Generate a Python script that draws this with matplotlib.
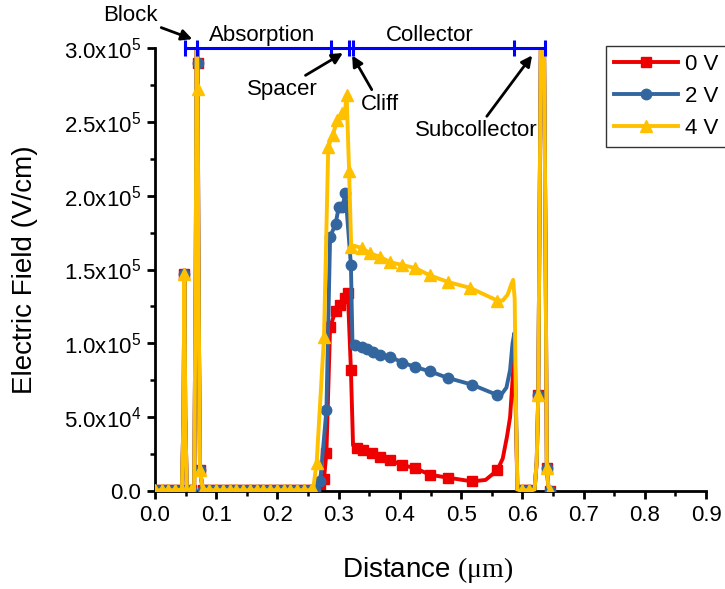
import matplotlib
matplotlib.use('Agg')
import matplotlib.pyplot as plt
from matplotlib.lines import Line2D
from matplotlib.ticker import MultipleLocator, FuncFormatter
import numpy as np

plt.rcParams['font.family'] = 'Liberation Sans'
plt.rcParams['mathtext.fontset'] = 'custom'
plt.rcParams['mathtext.rm'] = 'Liberation Sans'
plt.rcParams['mathtext.sf'] = 'Liberation Serif'

# field values in units of 1e5 V/cm, distance in um
# part shared by all bias points (substrate side, block layer, absorber)
x_left = [0.000, 0.011, 0.022, 0.033, 0.044, 0.0465, 0.048, 0.0495, 0.052, 0.058,
          0.064, 0.0665, 0.0682, 0.0695, 0.0715, 0.0735, 0.078, 0.089, 0.100, 0.111,
          0.122, 0.133, 0.144, 0.155, 0.166, 0.177, 0.188, 0.199, 0.210, 0.221,
          0.232, 0.243, 0.254]
y_left = [0.005, 0.005, 0.005, 0.005, 0.01, 0.5, 1.47, 0.5, 0.01, 0.005,
          0.01, 1.5, 3.4, 2.9, 1.2, 0.14, 0.01, 0.005, 0.005, 0.005,
          0.005, 0.005, 0.005, 0.005, 0.005, 0.005, 0.005, 0.005, 0.005, 0.005,
          0.005, 0.005, 0.005]
m_left = [1, 1, 1, 1, 1, 0, 1, 0, 0, 1,
          0, 0, 0, 1, 0, 1, 1, 1, 1, 1,
          1, 1, 1, 1, 1, 1, 1, 1, 1, 1,
          1, 1, 1]
block_top = [2.9, 2.9, 2.72]   # marker at the block spike for 0, 2, 4 V

# subcollector side, shared
x_right = [0.595, 0.600, 0.611, 0.620, 0.6235, 0.626, 0.6305, 0.6345, 0.638, 0.640, 0.6425, 0.646]
y_right = [0.0, 0.005, 0.005, 0.01, 0.2, 0.65, 3.2, 3.6, 1.6, 0.155, 0.03, 0.0]
m_right = [0, 1, 1, 0, 0, 1, 0, 0, 0, 1, 0, 1]

# spacer / cliff / collector for each bias
x_0v = [0.262, 0.270, 0.276, 0.280, 0.286, 0.295, 0.302, 0.310, 0.315, 0.320,
        0.3235, 0.330, 0.340, 0.355, 0.368, 0.384, 0.404, 0.425, 0.449, 0.479,
        0.518, 0.540, 0.559, 0.568, 0.575, 0.580, 0.584, 0.587, 0.5895, 0.592]
y_0v = [0.005, 0.01, 0.08, 0.26, 1.11, 1.22, 1.26, 1.31, 1.34, 0.82,
        0.31, 0.29, 0.28, 0.26, 0.23, 0.21, 0.175, 0.155, 0.11, 0.09,
        0.065, 0.075, 0.14, 0.22, 0.37, 0.50, 0.75, 0.95, 0.5, 0.0]
m_0v = [1, 1, 1, 1, 1, 1, 1, 1, 1, 1,
        0, 1, 1, 1, 1, 1, 1, 1, 1, 1,
        1, 0, 1, 0, 0, 0, 0, 0, 0, 0]

x_2v = [0.262, 0.270, 0.280, 0.286, 0.295, 0.300, 0.306, 0.311, 0.320, 0.3225,
        0.327, 0.338, 0.346, 0.356, 0.368, 0.384, 0.404, 0.425, 0.449, 0.479,
        0.518, 0.559, 0.566, 0.574, 0.580, 0.584, 0.587, 0.5895, 0.592]
y_2v = [0.005, 0.07, 0.55, 1.72, 1.81, 1.92, 1.92, 2.02, 1.53, 1.01,
        0.99, 0.975, 0.96, 0.94, 0.92, 0.91, 0.87, 0.84, 0.81, 0.765,
        0.72, 0.65, 0.655, 0.70, 0.82, 1.0, 1.07, 0.6, 0.0]
m_2v = [1, 1, 1, 1, 1, 1, 1, 1, 1, 0,
        1, 1, 1, 1, 1, 1, 1, 1, 1, 1,
        1, 1, 0, 0, 0, 0, 0, 0, 0]

x_4v = [0.258, 0.264, 0.276, 0.283, 0.290, 0.298, 0.305, 0.310, 0.313, 0.317,
        0.3205, 0.326, 0.338, 0.351, 0.368, 0.384, 0.404, 0.425, 0.449, 0.479,
        0.515, 0.559, 0.568, 0.576, 0.582, 0.585, 0.5875, 0.5895, 0.592]
y_4v = [0.005, 0.19, 1.04, 2.33, 2.41, 2.51, 2.56, 2.56, 2.68, 2.17,
        1.65, 1.66, 1.645, 1.61, 1.585, 1.55, 1.53, 1.51, 1.46, 1.415,
        1.375, 1.29, 1.29, 1.33, 1.40, 1.43, 1.30, 0.6, 0.0]
m_4v = [1, 1, 1, 1, 1, 1, 1, 0, 1, 1,
        1, 0, 1, 1, 1, 1, 1, 1, 1, 1,
        1, 1, 0, 0, 0, 0, 0, 0, 0]

labels = ['0 V', '2 V', '4 V']
colors = ['#ee0000', '#33669f', '#ffc000']
markers = ['s', 'o', '^']
msizes = [7, 7.5, 8]

# layer boundaries drawn as the blue bar on top
bounds = [0.049, 0.0686, 0.2876, 0.317, 0.3235, 0.5866, 0.637]

fig = plt.figure(figsize=(7.25, 5.89), dpi=100)
ax = fig.add_axes([155 / 725, 98 / 589, 551 / 725, 443 / 589])

mids = [(x_0v, y_0v, m_0v), (x_2v, y_2v, m_2v), (x_4v, y_4v, m_4v)]
for i, (xm, ym, mm) in enumerate(mids):
    yl = list(y_left)
    yl[13] = block_top[i]
    x = np.array(x_left + xm + x_right)
    y = np.array(yl + ym + y_right) * 1e5
    mask = np.array(m_left + mm + m_right, dtype=bool)
    ax.plot(x, y, color=colors[i], lw=2.8, marker=markers[i], ms=msizes[i],
            markevery=list(mask), zorder=2 + i)

ax.set_xlim(0, 0.9)
ax.set_ylim(0, 3.0e5)
ax.spines['top'].set_visible(False)
ax.spines['right'].set_visible(False)
ax.spines['left'].set_linewidth(2)
ax.spines['bottom'].set_linewidth(2)

ax.xaxis.set_major_locator(MultipleLocator(0.1))
ax.xaxis.set_minor_locator(MultipleLocator(0.05))
ax.yaxis.set_major_locator(MultipleLocator(0.5e5))
ax.yaxis.set_minor_locator(MultipleLocator(0.25e5))
ax.xaxis.set_major_formatter(FuncFormatter(lambda v, p: '%.1f' % abs(v) if abs(v) < 1e-9 else '%.1f' % v))


def sci_fmt(v, pos):
    if v < 1:
        return '0.0'
    e = int(np.floor(np.log10(v) + 1e-9))
    return r'$\mathregular{%.1fx10^{%d}}$' % (v / 10 ** e, e)


ax.yaxis.set_major_formatter(FuncFormatter(sci_fmt))
ax.tick_params(which='major', direction='out', length=6, width=2, labelsize=16, pad=4)
ax.tick_params(which='minor', direction='out', length=3.5, width=1.8)

ax.set_xlabel(r'Distance $\mathsf{(\mu m)}$', fontsize=20)
ax.set_ylabel('Electric Field (V/cm)', fontsize=20)
ax.xaxis.set_label_coords(0.494, -0.145)
ax.yaxis.set_label_coords(-0.212, 0.5)

# layer bar
ax.plot([bounds[0], bounds[-1]], [3.0e5, 3.0e5], color='#0000ff', lw=2.2,
        clip_on=False, zorder=10)
ax.vlines(bounds, 2.945e5, 3.055e5, colors='#0000ff', lw=2.2, clip_on=False, zorder=10)

ax.text(0.175, 3.086e5, 'Absorption', fontsize=16, ha='center', va='center')
ax.text(0.448, 3.086e5, 'Collector', fontsize=16, ha='center', va='center')

arrow = dict(arrowstyle='-|>', color='black', lw=2, mutation_scale=16,
             shrinkA=1, shrinkB=0)
notes = [('Block', (0.061, 3.06), (-0.041, 3.217)),
         ('Spacer', (0.307, 2.966), (0.2075, 2.72)),
         ('Cliff', (0.322, 2.95), (0.3676, 2.62)),
         ('Subcollector', (0.616, 2.95), (0.5245, 2.44))]
for txt, tip, pos in notes:
    ax.annotate(txt, xy=(tip[0], tip[1] * 1e5), xytext=(pos[0], pos[1] * 1e5),
                fontsize=16, ha='center', va='center', arrowprops=arrow,
                annotation_clip=False, zorder=11)

handles = [Line2D([], [], color=colors[i], lw=2.8, marker=markers[i], ms=msizes[i])
           for i in range(3)]
leg = fig.legend(handles, labels, loc='upper left',
                 bbox_to_anchor=(606 / 725, 1 - 46 / 589), borderaxespad=0,
                 fontsize=16, frameon=True, fancybox=False, edgecolor='black',
                 handlelength=2.9, handletextpad=0.3, labelspacing=0.5,
                 borderpad=0.35, numpoints=1)
leg.get_frame().set_linewidth(1)

fig.savefig('out.png', dpi=100)
